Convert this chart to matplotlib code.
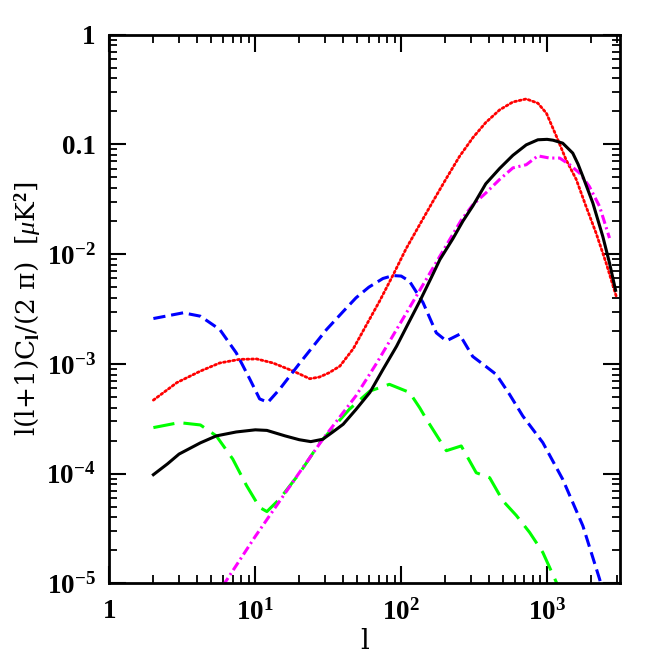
import numpy as np
import matplotlib
matplotlib.use('Agg')
import matplotlib.pyplot as plt
from matplotlib.ticker import LogLocator, FixedLocator, FixedFormatter, NullFormatter

plt.rcParams['font.family'] = ['Liberation Serif', 'DejaVu Serif']
plt.rcParams['mathtext.fontset'] = 'custom'
plt.rcParams['mathtext.rm'] = 'Liberation Serif:bold'
plt.rcParams['mathtext.it'] = 'Liberation Serif:italic'
plt.rcParams['mathtext.bf'] = 'Liberation Serif:bold'

# solid black
l_solid = [2, 2.5, 3, 4.2, 5.4, 7.4, 10, 12, 16, 20, 24, 29, 34, 40, 49, 61, 75, 93, 110, 134,
           160, 184, 226, 265, 310, 380, 473, 583, 720, 865, 1000, 1100, 1280, 1500, 1630,
           1760, 2060, 2410, 2680, 2950]
cl_solid = [9.8e-5, 1.23e-4, 1.51e-4, 1.91e-4, 2.21e-4, 2.40e-4, 2.51e-4, 2.48e-4, 2.21e-4,
            2.04e-4, 1.96e-4, 2.06e-4, 2.40e-4, 2.82e-4, 3.85e-4, 5.5e-4, 8.9e-4, 1.45e-3,
            2.24e-3, 3.72e-3, 6.03e-3, 8.9e-3, 1.38e-2, 2.0e-2, 2.75e-2, 4.37e-2, 6.03e-2,
            7.94e-2, 9.89e-2, 0.110, 0.111, 0.109, 0.1025, 0.0832, 0.0661, 0.0509, 0.0292,
            0.0145, 8.3e-3, 4.68e-3]

# red dotted
l_dot = [2, 2.9, 4.2, 5.7, 7.8, 10.2, 13.2, 18.2, 23.6, 27.5, 32, 38, 47, 58, 71, 88, 108,
         134, 165, 204, 251, 310, 380, 473, 583, 720, 865, 990, 1160, 1350, 1585, 1850, 2170,
         2540, 2980]
cl_dot = [4.68e-4, 6.76e-4, 8.6e-4, 1.02e-3, 1.10e-3, 1.11e-3, 1.02e-3, 8.6e-4, 7.33e-4,
          7.59e-4, 8.3e-4, 9.55e-4, 1.38e-3, 2.29e-3, 3.72e-3, 6.46e-3, 1.12e-2, 1.86e-2,
          3.02e-2, 4.9e-2, 7.76e-2, 0.115, 0.158, 0.206, 0.243, 0.259, 0.237, 0.192, 0.118,
          0.0724, 0.0479, 0.0272, 0.0155, 8.3e-3, 4.13e-3]

# magenta dash-dot
l_dd = [6, 10, 20, 29, 49, 68, 93, 134, 184, 258, 310, 380, 473, 583, 720, 865, 1040, 1220,
        1430, 1670, 1950, 2290, 2680]
cl_dd = [9.55e-6, 2.69e-5, 1.02e-4, 2.06e-4, 5.13e-4, 1.02e-3, 2.06e-3, 4.68e-3, 9.55e-3,
         2.04e-2, 2.82e-2, 3.6e-2, 4.79e-2, 6.1e-2, 6.52e-2, 7.85e-2, 7.5e-2, 7.5e-2,
         6.52e-2, 5.47e-2, 4.13e-2, 2.72e-2, 1.40e-2]

# blue short dashes
l_short = [2, 3.2, 4.2, 5.7, 7.4, 9.2, 10.7, 12.2, 14.7, 20.2, 30.8, 40, 49, 60, 75, 88, 100,
           114, 141, 174, 204, 251, 309, 380, 449, 553, 682, 935, 1280, 1760, 2290, 2450]
cl_short = [2.59e-3, 2.92e-3, 2.72e-3, 2.06e-3, 1.26e-3, 7.2e-4, 4.8e-4, 4.47e-4, 5.9e-4,
            1.02e-3, 2.06e-3, 3.0e-3, 4.0e-3, 5.0e-3, 6.0e-3, 6.38e-3, 6.31e-3, 5.66e-3,
            3.63e-3, 1.92e-3, 1.62e-3, 1.86e-3, 1.17e-3, 9.5e-4, 8.0e-4, 5.28e-4, 3.35e-4,
            1.92e-4, 8.9e-5, 3.35e-5, 1.10e-5, 7.9e-6]

# green long dashes
l_long = [2, 3, 4.2, 5.4, 7, 8.7, 10.7, 12, 14.7, 20.2, 27.7, 44, 61, 83, 114, 134, 149, 204,
          258, 327, 404, 498, 615, 759, 935, 1160, 1250]
cl_long = [2.63e-4, 2.92e-4, 2.78e-4, 2.21e-4, 1.36e-4, 7.8e-5, 4.93e-5, 4.52e-5, 5.9e-5,
           1.02e-4, 1.92e-4, 3.85e-4, 5.66e-4, 6.52e-4, 5.5e-4, 3.98e-4, 3.13e-4, 1.62e-4,
           1.79e-4, 1.02e-4, 9.2e-5, 5.66e-5, 4.17e-5, 2.92e-5, 1.92e-5, 1.02e-5, 7.9e-6]

x_ticks = [1, 10, 100, 1000]
x_labels = ['1', r'10$^{1}$', r'10$^{2}$', r'10$^{3}$']
y_ticks = [1e-5, 1e-4, 1e-3, 1e-2, 0.1, 1]
y_labels = [r'10$^{-5}$', r'10$^{-4}$', r'10$^{-3}$', r'10$^{-2}$', '0.1', '1']

fig = plt.figure(figsize=(6.54, 6.54), dpi=100)
ax = fig.add_axes([0.1674, 0.1078, 0.7806, 0.8394])

ax.plot(l_dot, cl_dot, color='#ff0000', lw=2.0, linestyle=(0, (0.7, 1.0)), dash_capstyle='round')
ax.plot(l_short, cl_short, color='#0000ff', lw=2.2, linestyle=(0, (4.0, 1.9)))
ax.plot(l_long, cl_long, color='#00ff00', lw=2.2, linestyle=(0, (7.0, 3.0)))
ax.plot(l_dd, cl_dd, color='#ff00ff', lw=2.2, linestyle=(0, (3.0, 1.2, 0.7, 1.2)))
ax.plot(l_solid, cl_solid, color='black', lw=2.2)

ax.set_xscale('log')
ax.set_yscale('log')
ax.set_xlim(1, 10 ** 3.5)
ax.set_ylim(1e-5, 1)

ax.xaxis.set_major_locator(FixedLocator(x_ticks))
ax.xaxis.set_major_formatter(FixedFormatter(x_labels))
ax.yaxis.set_major_locator(FixedLocator(y_ticks))
ax.yaxis.set_major_formatter(FixedFormatter(y_labels))
ax.xaxis.set_minor_locator(LogLocator(base=10, subs=np.arange(2, 10), numticks=20))
ax.yaxis.set_minor_locator(LogLocator(base=10, subs=np.arange(2, 10), numticks=20))
ax.xaxis.set_minor_formatter(NullFormatter())
ax.yaxis.set_minor_formatter(NullFormatter())

ax.tick_params(which='both', direction='in', top=True, right=True, labelsize=19.5)
ax.tick_params(which='major', length=12, width=1.5)
ax.tick_params(which='minor', length=6, width=1.3)
ax.tick_params(axis='x', which='major', pad=11)
ax.tick_params(axis='y', which='major', pad=10)
for lab in ax.get_xticklabels() + ax.get_yticklabels():
    lab.set_fontweight('bold')
for s in ax.spines.values():
    s.set_linewidth(2)

ax.set_xlabel('l', fontsize=20, labelpad=2, family='DejaVu Serif')
ax.set_ylabel(r'l(l+1)C$_{\mathrm{l}}$/(2 π)  [$\mu$K$^{2}$]', fontsize=19,
              family='DejaVu Serif', labelpad=2)

fig.savefig('out.png', dpi=100)
